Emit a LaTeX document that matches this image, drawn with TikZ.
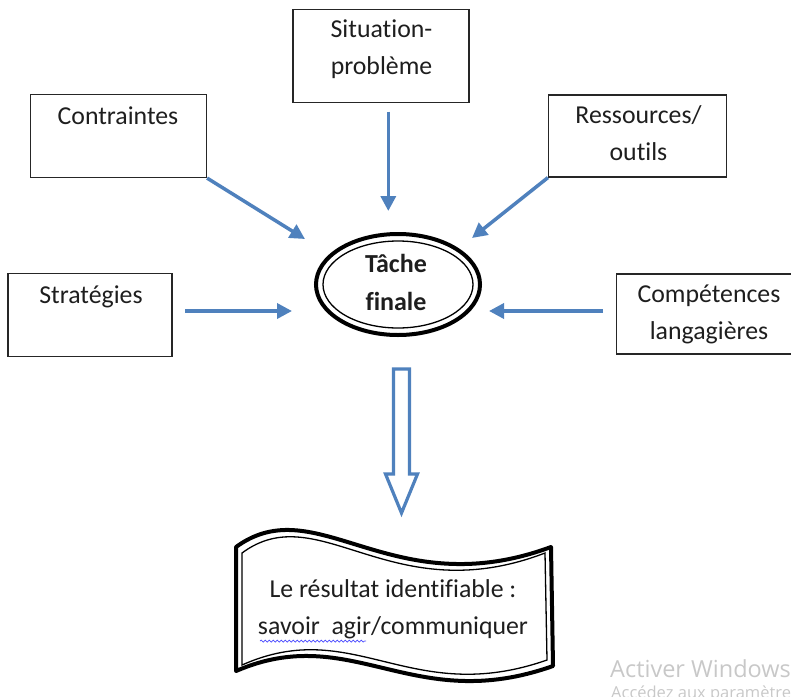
\documentclass[tikz,border=0pt]{standalone}
\usepackage{fontspec}
\setmainfont{Carlito}[Ligatures=CommonOff]
\newfontfamily\wmfont{Open Sans}
\usetikzlibrary{arrows.meta,decorations.pathmorphing,shapes.geometric}
\definecolor{arrowblue}{RGB}{79,129,189}
\definecolor{txtcol}{RGB}{30,30,30}
\definecolor{wmgray}{RGB}{200,200,200}
\newcommand\vs{\rule[-4pt]{0pt}{20pt}}
\begin{document}
\begin{tikzpicture}[x=1pt,y=-1pt,
  boxnode/.style={draw=black!85,line width=1.2pt,inner sep=0pt},
  txt/.style={inner sep=0pt,align=center,text=txtcol,font=\fontsize{25.8}{37}\selectfont},
  btxt/.style={txt,font=\fontsize{26}{38}\selectfont\bfseries},
  conn/.style={draw=arrowblue,line width=3.5pt,-{Triangle[length=15pt,width=15pt]}},
  hollow/.style={draw=arrowblue,line width=3.2pt,line join=miter,fill=white},
  wm/.style={inner sep=0pt,text=wmgray,font=\wmfont\fontsize{23.5}{26}\selectfont}]
\useasboundingbox (0,0) rectangle (791,696);
% boxes
\node[boxnode,minimum width=176pt,minimum height=93pt] (situation) at (381,56) {};
\node[boxnode,minimum width=176pt,minimum height=83pt] (contraintes) at (118.5,136) {};
\node[boxnode,minimum width=178pt,minimum height=82pt] (ressources) at (637.5,136) {};
\node[boxnode,minimum width=164pt,minimum height=83pt] (strategies) at (90,315) {};
\node[boxnode,minimum width=175pt,minimum height=80pt] (competences) at (704,314) {};
% texts
\node[txt] (situation-t) at (381.5,49) {\vs Situation-\\\vs problème};
\node[txt] (contraintes-t) at (118,118) {\vs Contraintes};
\node[txt] (ressources-t) at (638.5,135) {\vs Ressources/\\\vs outils};
\node[txt] (strategies-t) at (91,297) {\vs Stratégies};
\node[txt] (competences-t) at (709,314.5) {\vs Compétences\\\vs langagières};
% central ellipse
\node[draw=black,line width=4pt,ellipse,minimum width=164pt,minimum height=101pt,inner sep=0pt] (tache) at (398,284.5) {};
\draw[line width=1.3pt] (tache.center) ellipse [x radius=75pt,y radius=43.5pt];
\node[btxt] (tache-t) at (396,284) {\vs Tâche\\\vs finale};
% connector end points
\coordinate (c1) at (305,239);
\coordinate (c2) at (388.3,211);
\coordinate (c3) at (472,238);
\coordinate (c4) at (292,311);
\coordinate (c5) at (489,311);
\coordinate (s2) at (388.3,111.5);
\coordinate (s4) at (185,311);
\coordinate (s5) at (603,311);
\draw[conn] (contraintes.south east) -- (c1);
\draw[conn] (s2) -- (c2);
\draw[conn] (ressources.south west) -- (c3);
\draw[conn] (s4) -- (c4);
\draw[conn] (s5) -- (c5);
% hollow arrow
\draw[hollow] (393.5,369) -- (409.5,369) -- (409.5,474) -- (417.5,474) -- (401.5,513) -- (385.5,474) -- (393.5,474) -- cycle;
% banner
\draw[line width=4pt,line join=round] (236,547) .. controls (317,488) and (391,606) .. (551,547)
   -- (553,666) .. controls (412,716) and (352,621) .. (236,671) -- cycle;
\draw[line width=1.3pt] (242,553) .. controls (319,496) and (391,612) .. (545,553)
   -- (547,660) .. controls (410,708) and (354,615) .. (242,665) -- cycle;
\node[txt] (resultat) at (393,609) {\vs Le résultat identifiable :\\\vs savoir\ \ agir/communiquer};
\draw[draw=blue!70!white,line width=0.7pt,decorate,decoration={snake,amplitude=1pt,segment length=4pt}] (260,641) -- (366,641);
% watermark
\node[wm,anchor=base west] (wm1) at (610,677) {Activer Windows};
\node[wm,anchor=base west,font=\wmfont\fontsize{16.5}{18}\selectfont] (wm2) at (611,698) {Accédez aux paramètres};
\end{tikzpicture}
\end{document}
